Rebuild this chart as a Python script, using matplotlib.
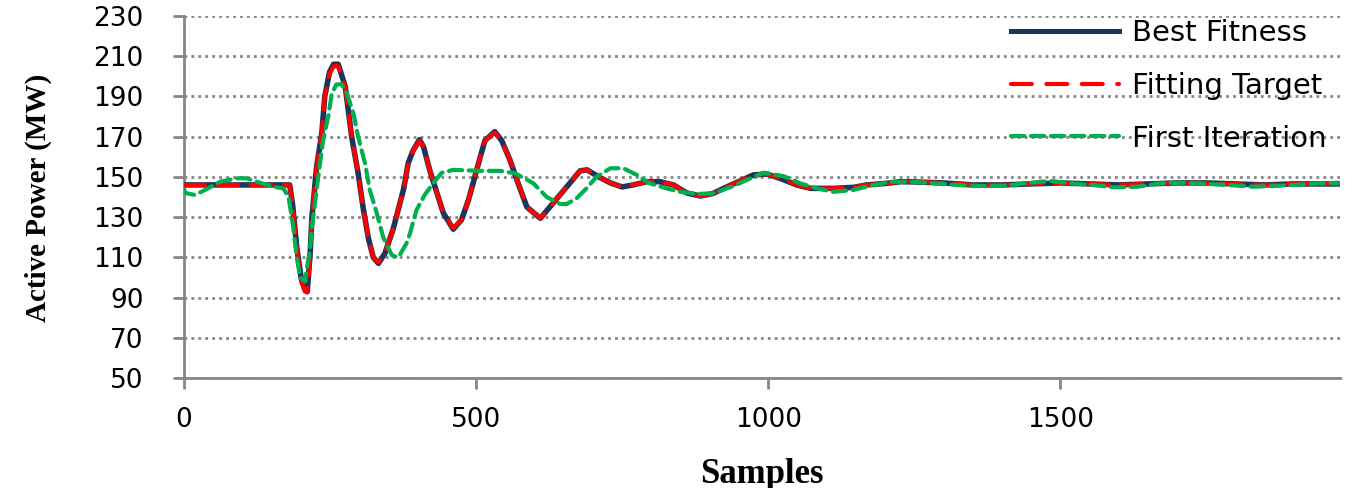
import matplotlib
matplotlib.use("Agg")
import matplotlib.pyplot as plt
from matplotlib.lines import Line2D

# samples / active power (MW)
best_x = [0, 181, 186, 193, 201, 207, 211, 216, 219, 227, 236, 241, 249, 256, 264,
          276, 287, 298, 307, 316, 324, 333, 344, 358, 376, 384, 392, 403, 410, 421,
          433, 444, 461, 475, 487, 501, 515, 532, 544, 558, 572, 587, 610, 632, 655,
          678, 690, 710, 730, 750, 769, 792, 815, 838, 861, 884, 906, 929, 952, 975,
          998, 1020, 1049, 1072, 1112, 1146, 1169, 1203, 1226, 1250, 1300, 1350, 1400,
          1450, 1500, 1550, 1600, 1650, 1700, 1750, 1800, 1850, 1900, 1979]
best_y = [146, 146, 136, 115, 99, 94, 93, 112, 130, 155, 172, 190, 202, 206, 206,
          195, 170, 152, 134, 119, 110, 107, 112, 124, 144, 157, 163, 168.5, 165, 153,
          142, 132, 124, 128.6, 138.5, 153.4, 168, 172.5, 168, 158.4, 146.8, 135, 129.4, 137, 145,
          153, 153.5, 150, 147, 145, 146, 147.6, 147.6, 146, 142, 140.5, 141.8, 145, 148, 151,
          151.4, 149.3, 146, 144.3, 144.3, 144.8, 146, 146.8, 147.6, 147.5, 147, 146, 146,
          146.5, 147, 146.5, 146, 146.5, 147, 147, 146.5, 146, 146.5, 146.5]

target_x = list(best_x)
target_y = [146, 146, 136, 114, 98, 93, 92.5, 111, 130, 155, 172, 190, 201, 205, 205,
            195, 170, 152, 134, 119, 110, 107.5, 112, 124, 144, 157, 163, 168, 165, 153,
            142, 132, 124.5, 128.6, 138.5, 153.4, 168, 172, 168, 158.4, 146.8, 135, 129.4, 137, 145,
            153, 153.5, 150, 147, 145, 146, 147.6, 147.6, 146, 142, 140.5, 141.8, 145, 148, 151,
            151.4, 149.3, 146, 144.3, 144.3, 144.8, 146, 146.8, 147.6, 147.5, 147, 146, 146,
            146.5, 147, 146.5, 146, 146.5, 147, 147, 146.5, 146, 146.5, 146.5]

first_x = [0, 2, 19, 36, 62, 90, 107, 130, 153, 170, 179, 187, 193, 199, 207,
           216, 219, 227, 233, 238, 247, 253, 261, 270, 279, 290, 298, 310, 318, 330,
           341, 356, 367, 381, 387, 398, 412, 427, 441, 461, 507, 541, 567, 598, 621,
           644, 655, 672, 689, 706, 730, 752, 775, 797, 826, 849, 878, 906, 941, 963,
           992, 1026, 1055, 1083, 1112, 1146, 1180, 1214, 1250, 1300, 1350, 1402, 1449, 1483,
           1517, 1556, 1591, 1632, 1671, 1711, 1752, 1786, 1830, 1865, 1899, 1940, 1976]
first_y = [144, 142, 141, 143.5, 147.6, 149.3, 149.3, 147.1, 145.1, 144.3, 140, 125, 110, 100, 98,
           115, 125, 143.5, 157, 168, 180, 191.5, 196, 196, 191.5, 181.6, 170, 156.7, 143.5, 132,
           120, 111, 110, 117, 122, 133.5, 141, 147, 152, 153.5, 153, 153, 151.8, 146.8, 140,
           136.5, 136.5, 139.3, 144.3, 150, 154.3, 154.3, 151, 146.8, 144.3, 142.6, 141.5, 141.8, 145.5, 148.4,
           152.1, 150.4, 146.8, 144.3, 142.6, 143.5, 146, 147.6, 147.5, 146.5, 145.5, 145.5, 147.1, 148,
           146.8, 146, 144.8, 145.1, 146.8, 147.1, 146.5, 146, 145.1, 145.5, 146, 146.8, 147.1]

y_ticks = [50, 70, 90, 110, 130, 150, 170, 190, 210, 230]
x_ticks = [0, 500, 1000, 1500]

grey = '#868686'
navy = '#1C355E'
red = '#FF0000'
green = '#00B050'

fig = plt.figure(figsize=(13.53, 4.88), dpi=100)
ax = fig.add_axes([184 / 1353, 1 - 378 / 488, (1340 - 184) / 1353, (378 - 16) / 488])

ax.plot(best_x, best_y, color=navy, linewidth=4.0, solid_joinstyle='round',
        label='Best Fitness', zorder=3)
ax.plot(target_x, target_y, color=red, linewidth=3.0, dashes=(5, 3),
        dash_capstyle='round', label='Fitting Target', zorder=4)
ax.plot(first_x, first_y, color=green, linewidth=3.0, dashes=(3.2, 1.6),
        dash_capstyle='round', label='First Iteration', zorder=5)

ax.set_xlim(0, 1979)
ax.set_ylim(50, 230)
ax.set_yticks(y_ticks)
ax.set_xticks(x_ticks)

for s in ['top', 'right']:
    ax.spines[s].set_visible(False)
for s in ['left', 'bottom']:
    ax.spines[s].set_color(grey)
    ax.spines[s].set_linewidth(2.0)

ax.yaxis.grid(True, color=grey, linestyle=(0, (1.0, 1.5)), linewidth=2.0)
ax.set_axisbelow(True)

ax.tick_params(axis='both', direction='out', length=8, width=2.0, color=grey,
               labelsize=19, labelcolor='black')
ax.tick_params(axis='y', pad=21)
ax.tick_params(axis='x', pad=13)

ax.set_xlabel('Samples', family='Liberation Serif', fontweight='bold', fontsize=25)
ax.xaxis.set_label_coords(0.5, -0.22)
ax.set_ylabel('Active Power (MW)', family='Liberation Serif', fontweight='bold', fontsize=21)
ax.yaxis.set_label_coords(-(184 - 52) / (1340 - 184), (378 - 198) / (378 - 16))

handles = [
    Line2D([], [], color=navy, linewidth=3.6),
    Line2D([], [], color=red, linewidth=3.0, dashes=(5, 3.5), dash_capstyle='round'),
    Line2D([], [], color=green, linewidth=3.0, dashes=(3.2, 1.6), dash_capstyle='round'),
]
leg = fig.legend(handles, ['Best Fitness', 'Fitting Target', 'First Iteration'],
                 loc='upper left', bbox_to_anchor=(1011 / 1353, 1 - 19 / 488),
                 frameon=False, fontsize=21, handlelength=3.7, handletextpad=0.45,
                 labelspacing=0.85, borderpad=0, borderaxespad=0)

fig.savefig('out.png', dpi=100)
